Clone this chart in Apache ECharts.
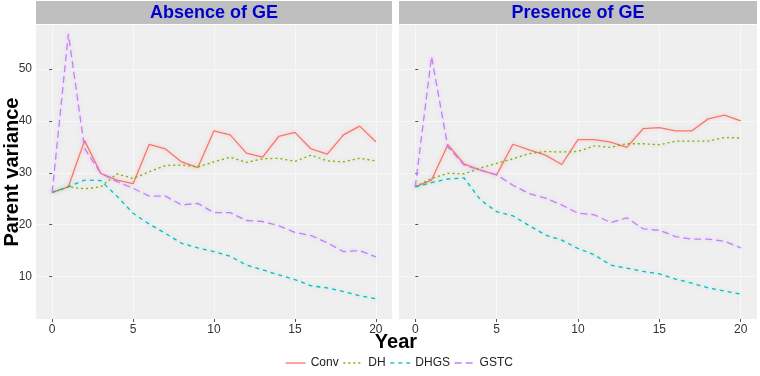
<!DOCTYPE html>
<html>
<head>
<meta charset="utf-8">
<script src="https://cdn.jsdelivr.net/npm/echarts@6/dist/echarts.min.js"></script>
<style>
  html, body { margin: 0; padding: 0; background: #fff; }
  #chart { width: 760px; height: 376px; }
</style>
</head>
<body>
<div id="chart"></div>
<script>
// years 0..20
const years = [0, 1, 2, 3, 4, 5, 6, 7, 8, 9, 10, 11, 12, 13, 14, 15, 16, 17, 18, 19, 20];
const panels = ["Absence of GE", "Presence of GE"];
const methods = ["Conv", "DH", "DHGS", "GSTC"];

// Absence of GE
const convAbs = [26.2, 27.3, 36.2, 29.9, 28.6, 27.9, 35.5, 34.6, 32.1, 31.0, 38.1, 37.3, 33.8, 33.0, 37.0, 37.8, 34.6, 33.6, 37.3, 39.0, 36.0];
const dhAbs = [26.2, 27.3, 26.9, 27.3, 29.8, 28.9, 30.2, 31.4, 31.5, 31.1, 32.1, 33.0, 32.0, 32.7, 32.8, 32.2, 33.4, 32.3, 32.1, 32.8, 32.3];
const dhgsAbs = [26.2, 27.3, 28.6, 28.5, 25.5, 22.2, 20.1, 18.3, 16.4, 15.5, 14.8, 13.9, 12.2, 11.3, 10.3, 9.4, 8.2, 7.8, 7.1, 6.3, 5.7];
const gstcAbs = [26.2, 56.8, 34.7, 29.9, 28.3, 27.0, 25.5, 25.5, 23.8, 24.1, 22.3, 22.3, 20.8, 20.6, 19.8, 18.5, 17.9, 16.5, 14.8, 15.0, 13.8];

// Presence of GE
const convPre = [27.3, 28.6, 35.4, 31.7, 30.5, 29.6, 35.5, 34.4, 33.4, 31.6, 36.4, 36.4, 35.9, 34.9, 38.5, 38.7, 38.1, 38.1, 40.4, 41.1, 40.0];
const dhPre = [27.3, 28.9, 29.9, 29.8, 30.9, 31.8, 32.7, 33.7, 34.1, 34.0, 34.1, 35.2, 34.9, 35.6, 35.6, 35.4, 36.1, 36.1, 36.1, 36.8, 36.7];
const dhgsPre = [27.3, 28.1, 28.8, 29.0, 24.8, 22.5, 21.7, 19.8, 18.0, 17.0, 15.4, 14.2, 12.2, 11.6, 11.0, 10.5, 9.5, 8.7, 7.8, 7.2, 6.6];
const gstcPre = [27.3, 52.4, 35.0, 31.5, 30.5, 29.6, 27.6, 26.0, 25.1, 23.8, 22.2, 21.9, 20.4, 21.3, 19.2, 18.9, 17.7, 17.2, 17.2, 16.8, 15.5];

const xTicks = [0, 5, 10, 15, 20];
const yTicks = [10, 20, 30, 40, 50];

const colors = ["#F8766D", "#7CAE00", "#00BFC4", "#C77CFF"];
const dashes = ["solid", [2, 3], [4, 4], [7, 4]];
const glow = ["rgba(248,118,109,0.35)", "rgba(124,174,0,0.3)", "rgba(0,191,196,0.3)", "rgba(199,124,255,0.35)"];

const dataByPanel = [
  [convAbs, dhAbs, dhgsAbs, gstcAbs],
  [convPre, dhPre, dhgsPre, gstcPre]
];

const chart = echarts.init(document.getElementById("chart"));

const grids = [
  { left: 36, top: 25, width: 356, height: 294 },
  { left: 399, top: 25, width: 358, height: 294 }
];

const xAxes = grids.map((g, i) => ({
  type: "value",
  gridIndex: i,
  min: -1,
  max: 21,
  axisLine: { show: false },
  axisTick: { show: true, customValues: xTicks, length: 3, lineStyle: { color: "#555" } },
  axisLabel: { customValues: xTicks, color: "#333", fontSize: 12, margin: 5, fontFamily: "Liberation Sans" },
  splitLine: { show: true, lineStyle: { color: "#f8f8f8", width: 1 } }
}));

const yAxes = grids.map((g, i) => ({
  type: "value",
  gridIndex: i,
  position: i === 0 ? "left" : "right",
  min: 1.8,
  max: 58.5,
  axisLine: { show: false },
  axisTick: { show: true, customValues: yTicks, length: 3, lineStyle: { color: "#555" } },
  axisLabel: { show: i === 0, customValues: yTicks, color: "#333", fontSize: 12, margin: 4, fontFamily: "Liberation Sans" },
  splitLine: { show: true, lineStyle: { color: "#f8f8f8", width: 1 } }
}));

const series = [];
dataByPanel.forEach((sets, p) => {
  sets.forEach((vals, m) => {
    series.push({
      name: methods[m],
      type: "line",
      xAxisIndex: p,
      yAxisIndex: p,
      data: years.map((y, k) => [y, vals[k]]),
      showSymbol: false,
      symbol: "none",
      color: colors[m],
      lineStyle: {
        width: 1.3,
        type: dashes[m],
        color: colors[m],
        shadowColor: glow[m],
        shadowBlur: 4
      },
      z: 3 + m
    });
  });
});

const option = {
  backgroundColor: "#ffffff",
  animation: false,
  textStyle: { fontFamily: "Liberation Sans" },
  grid: grids.map(g => Object.assign({ show: true, backgroundColor: "#efefef", borderWidth: 0, outerBoundsMode: "none", containLabel: false }, g)),
  xAxis: xAxes,
  yAxis: yAxes,
  legend: {
    data: methods,
    top: 352,
    left: 280,
    itemWidth: 20,
    itemHeight: 10,
    itemGap: 4,
    itemStyle: { opacity: 0 },
    lineStyle: { width: 1.3, shadowBlur: 0 },
    textStyle: { fontSize: 12, color: "#222", fontFamily: "Liberation Sans" }
  },
  graphic: [
    { type: "rect", shape: { x: 36, y: 1, width: 356, height: 23 }, style: { fill: "#bfbfbf" } },
    { type: "rect", shape: { x: 399, y: 1, width: 358, height: 23 }, style: { fill: "#bfbfbf" } },
    { type: "text", x: 214, y: 13, style: { text: panels[0], fill: "#0000cc", font: "bold 18px 'Liberation Sans'", textAlign: "center", textVerticalAlign: "middle" } },
    { type: "text", x: 578, y: 13, style: { text: panels[1], fill: "#0000cc", font: "bold 18px 'Liberation Sans'", textAlign: "center", textVerticalAlign: "middle" } },
    { type: "text", x: 396, y: 342, style: { text: "Year", fill: "#000", font: "bold 20px 'Liberation Sans'", textAlign: "center", textVerticalAlign: "middle" } },
    {
      type: "group",
      x: 12,
      y: 172,
      rotation: Math.PI / 2,
      children: [
        { type: "text", x: 0, y: 0, style: { text: "Parent variance", fill: "#000", font: "bold 20px 'Liberation Sans'", align: "center", verticalAlign: "middle" } }
      ]
    }
  ],
  series: series
};

chart.setOption(option);
</script>
</body>
</html>
